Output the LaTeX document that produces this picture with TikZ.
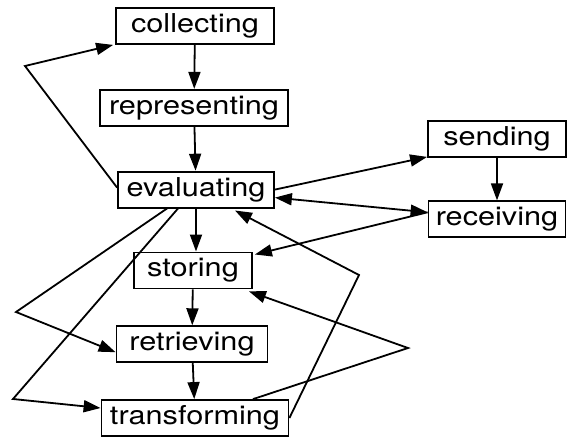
\documentclass[tikz,border=0pt]{standalone}
\usepackage{fontspec}
\setmainfont{TeX Gyre Heros}[FakeStretch=1.18]
\usetikzlibrary{arrows.meta,positioning}

\begin{document}
\begin{tikzpicture}
	[->,>={Triangle[length=17pt,width=12pt]},x=1pt,y=1pt,line width=1.8pt,node distance=44pt,
		box node/.style={draw,rectangle,minimum height=36pt,inner sep=0pt,font=\fontsize{26}{31}\selectfont}]

	\useasboundingbox (0,-439) rectangle (573,0);

	\node[box node, minimum width=158pt]  (collecting) at (195,-26) {collecting};
	\node[box node, minimum width=188pt]  [below=of collecting, xshift=-1pt]  (representing) {representing};
	\node[box node, minimum width=156pt]  [below=of representing, xshift=2pt]  (evaluating) {evaluating};
	\node[box node, minimum width=118pt]  [below=43pt of evaluating, xshift=-3pt]  (storing) {storing};
	\node[box node, minimum width=151pt]  [below=36pt of storing, xshift=-1pt]  (retrieving) {retrieving};
	\node[box node, minimum width=187pt]  [below=36pt of retrieving, xshift=3pt]  (transforming) {transforming};
	\node[box node, minimum width=138pt]  (sending) at (497,-139) {sending};
	\node[box node, minimum width=137pt]  [below=42.5pt of sending]  (receiving) {receiving};

	% turning points of the feedback lines
	\coordinate (collectTurn) at (25,-66);
	\coordinate (retrieveTurn) at (16,-312);
	\coordinate (transformTurn) at (13,-399);
	\coordinate (evalTurn) at (359,-275);
	\coordinate (storeTurn) at (408,-348);

	\path
	(collecting) edge (representing)
	(representing) edge (evaluating)
	(evaluating.south) edge (evaluating.south |- storing.north)
	(storing) edge (retrieving)
	(retrieving) edge (transforming)
	(sending) edge (receiving)
	(evaluating.east) edge ([yshift=1pt]sending.south west)
	([yshift=-8pt]evaluating.east) edge [<->] ([yshift=7pt]receiving.west)
	([yshift=7pt]receiving.west) edge ([xshift=2pt,yshift=-3pt]storing.north east)
	;

	\draw ([yshift=2pt]evaluating.west) -- (collectTurn) -- ([xshift=-2pt]collecting.south west);
	\draw ([xshift=-29pt]evaluating.south) -- (retrieveTurn) -- ([yshift=-8pt]retrieving.west);
	\draw ([xshift=-18pt]evaluating.south) -- (transformTurn) -- ([yshift=10pt]transforming.west);
	\draw (transforming.east) -- (evalTurn) -- ([xshift=39pt,yshift=-2pt]evaluating.south);
	\draw ([xshift=58pt]transforming.north) -- (storeTurn) -- ([xshift=-4pt,yshift=-2pt]storing.south east);

\end{tikzpicture}
\end{document}
